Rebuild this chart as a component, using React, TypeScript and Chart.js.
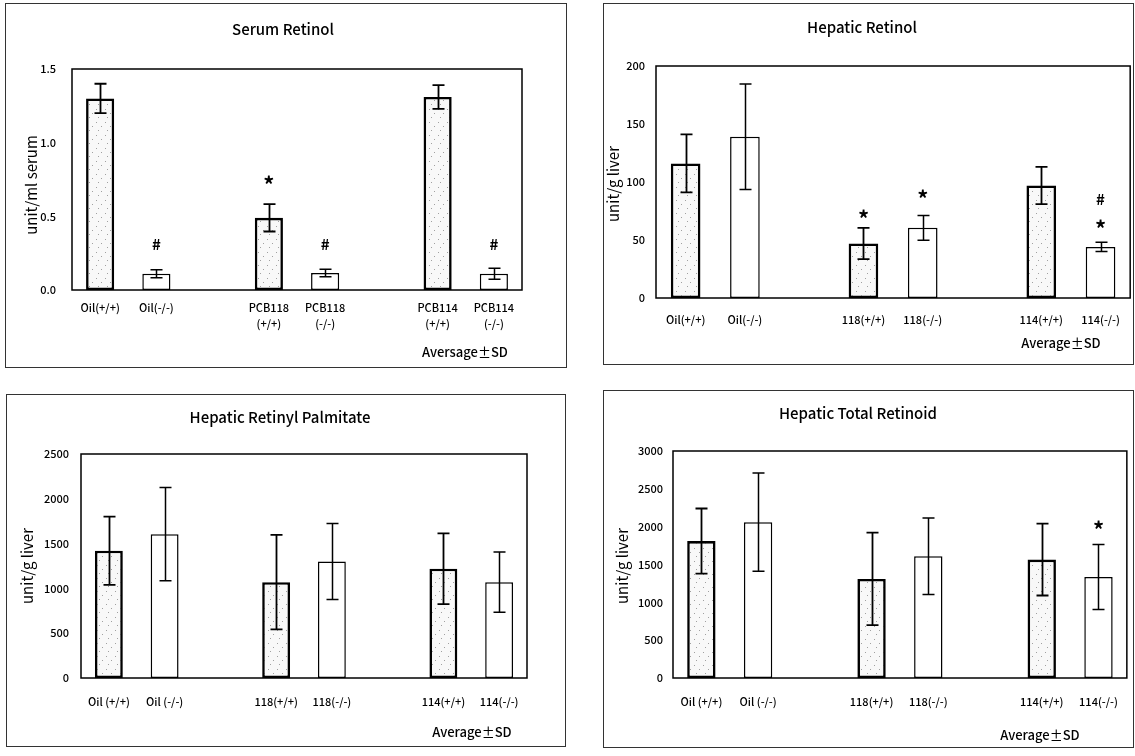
import { useEffect, useRef } from "react";
import { Chart, registerables } from "chart.js";
Chart.register(...registerables);

// ---------------- data ----------------
const genotype = ["+/+", "-/-", "", "+/+", "-/-", "", "+/+", "-/-"];

// Serum Retinol
const serumLabels: (string | string[])[] = ["Oil(+/+)", "Oil(-/-)", "", ["PCB118", "(+/+)"], ["PCB118", "(-/-)"], "", ["PCB114", "(+/+)"], ["PCB114", "(-/-)"]];
const serumMeans = [1.3, 0.11, null, 0.49, 0.115, null, 1.31, 0.11];
const serumSD = [0.1, 0.027, null, 0.093, 0.025, null, 0.08, 0.037];
const serumMarkText = ["#", "*", "#", "#"];
const serumMarkCat = [1, 3, 4, 7];
const serumMarkVal = [0.31, 0.75, 0.31, 0.31];

// Hepatic Retinol
const hepRetLabels = ["Oil(+/+)", "Oil(-/-)", "", "118(+/+)", "118(-/-)", "", "114(+/+)", "114(-/-)"];
const hepRetMeans = [116, 139, null, 47, 60.5, null, 97, 44];
const hepRetSD = [25, 45.5, null, 13.5, 10.7, null, 16, 4];
const hepRetMarkText = ["*", "*", "#", "*"];
const hepRetMarkCat = [3, 4, 7, 7];
const hepRetMarkVal = [73, 90, 85, 64];

// Hepatic Retinyl Palmitate
const palmLabels = ["Oil (+/+)", "Oil (-/-)", "", "118(+/+)", "118(-/-)", "", "114(+/+)", "114(-/-)"];
const palmMeans = [1420, 1605, null, 1070, 1300, null, 1220, 1070];
const palmSD = [380, 520, null, 527, 425, null, 395, 335];
const palmMarkText: string[] = [];
const palmMarkCat: number[] = [];
const palmMarkVal: number[] = [];

// Hepatic Total Retinoid
const totalLabels = ["Oil (+/+)", "Oil (-/-)", "", "118(+/+)", "118(-/-)", "", "114(+/+)", "114(-/-)"];
const totalMeans = [1810, 2060, null, 1310, 1610, null, 1565, 1335];
const totalSD = [430, 650, null, 612, 505, null, 475, 430];
const totalMarkText = ["*"];
const totalMarkCat = [7];
const totalMarkVal = [2035];

// ---------------- layout ----------------
const FONT = "'Noto Sans CJK JP', 'Noto Sans', sans-serif";

type Box = { x: number; y: number; w: number; h: number };
type Plot = { l: number; t: number; r: number; b: number };
type Cfg = {
  box: Box;
  plot: Plot;
  title: string;
  titlePos: [number, number];
  yTitle: string;
  yTitlePos: [number, number];
  note: string;
  notePos: [number, number];
  labels: (string | string[])[];
  means: (number | null)[];
  sd: (number | null)[];
  markText: string[];
  markCat: number[];
  markVal: number[];
  yMax: number;
  yStep: number;
  yDecimals: number;
  yPad: number;
  xPad: number;
};

const panels: Cfg[] = [
  {
    box: { x: 5, y: 3, w: 562, h: 365 },
    plot: { l: 72, t: 69, r: 522, b: 290 },
    title: "Serum Retinol",
    titlePos: [283, 28],
    yTitle: "unit/ml serum",
    yTitlePos: [31, 185],
    note: "Aversage\u00b1SD",
    notePos: [465, 353],
    labels: serumLabels,
    means: serumMeans,
    sd: serumSD,
    markText: serumMarkText,
    markCat: serumMarkCat,
    markVal: serumMarkVal,
    yMax: 1.5,
    yStep: 0.5,
    yDecimals: 1,
    yPad: 16,
    xPad: 10,
  },
  {
    box: { x: 603, y: 3, w: 531, h: 362 },
    plot: { l: 656, t: 66, r: 1133, b: 298 },
    title: "Hepatic Retinol",
    titlePos: [862, 28],
    yTitle: "unit/g liver",
    yTitlePos: [613, 184],
    note: "Average\u00b1SD",
    notePos: [1061, 344],
    labels: hepRetLabels,
    means: hepRetMeans,
    sd: hepRetSD,
    markText: hepRetMarkText,
    markCat: hepRetMarkCat,
    markVal: hepRetMarkVal,
    yMax: 200,
    yStep: 50,
    yDecimals: 0,
    yPad: 11,
    xPad: 14,
  },
  {
    box: { x: 6, y: 394, w: 560, h: 353 },
    plot: { l: 81, t: 454, r: 527, b: 678 },
    title: "Hepatic Retinyl Palmitate",
    titlePos: [280, 418],
    yTitle: "unit/g liver",
    yTitlePos: [27, 566],
    note: "Average\u00b1SD",
    notePos: [472, 733],
    labels: palmLabels,
    means: palmMeans,
    sd: palmSD,
    markText: palmMarkText,
    markCat: palmMarkCat,
    markVal: palmMarkVal,
    yMax: 2500,
    yStep: 500,
    yDecimals: 0,
    yPad: 12,
    xPad: 16,
  },
  {
    box: { x: 603, y: 390, w: 531, h: 358 },
    plot: { l: 673, t: 451, r: 1132, b: 678 },
    title: "Hepatic Total Retinoid",
    titlePos: [858, 414],
    yTitle: "unit/g liver",
    yTitlePos: [622, 566],
    note: "Average\u00b1SD",
    notePos: [1040, 736],
    labels: totalLabels,
    means: totalMeans,
    sd: totalSD,
    markText: totalMarkText,
    markCat: totalMarkCat,
    markVal: totalMarkVal,
    yMax: 3000,
    yStep: 500,
    yDecimals: 0,
    yPad: 10,
    xPad: 16,
  },
];

function makePattern(): CanvasPattern | string {
  const c = document.createElement("canvas");
  c.width = 9;
  c.height = 13;
  const g = c.getContext("2d");
  if (!g) return "#f4f4f4";
  g.fillStyle = "#f8f8f8";
  g.fillRect(0, 0, 9, 13);
  g.fillStyle = "#a0a0a0";
  g.fillRect(1, 2, 1, 1);
  g.fillRect(6, 6, 1, 1);
  g.fillRect(3, 10, 1, 1);
  const p = g.createPattern(c, "repeat");
  return p || "#f4f4f4";
}

function drawCentered(ctx: CanvasRenderingContext2D, text: string, x: number, y: number) {
  const m = ctx.measureText(text);
  const asc = m.actualBoundingBoxAscent;
  const desc = m.actualBoundingBoxDescent;
  ctx.textBaseline = "alphabetic";
  ctx.fillText(text, x, y + (asc - desc) / 2);
}

function PanelChart({ cfg }: { cfg: Cfg }) {
  const ref = useRef<HTMLCanvasElement>(null);
  useEffect(() => {
    const canvas = ref.current;
    if (!canvas) return;
    const { box, plot } = cfg;
    const pattern = makePattern();
    const isPP = genotype.map((g) => g === "+/+");

    const decor = {
      id: "decor" + cfg.title.replace(/\s/g, ""),
      beforeDraw(chart: any) {
        const ctx = chart.ctx as CanvasRenderingContext2D;
        ctx.save();
        ctx.fillStyle = "#ffffff";
        ctx.fillRect(0, 0, box.w, box.h);
        ctx.strokeStyle = "#333333";
        ctx.lineWidth = 1;
        ctx.strokeRect(0.5, 0.5, box.w - 1, box.h - 1);
        ctx.restore();
      },
      afterDatasetsDraw(chart: any) {
        const ctx = chart.ctx as CanvasRenderingContext2D;
        const xs = chart.scales.x;
        const ys = chart.scales.y;
        ctx.save();
        ctx.strokeStyle = "#000000";
        cfg.means.forEach((m, i) => {
          const s = cfg.sd[i];
          if (m == null || s == null) return;
          const x = Math.round(xs.getPixelForValue(i)) + 0.5;
          const yt = ys.getPixelForValue(m + s);
          const yb = ys.getPixelForValue(m - s);
          ctx.lineWidth = isPP[i] ? 1.8 : 1.5;
          ctx.beginPath();
          ctx.moveTo(x, yt);
          ctx.lineTo(x, yb);
          ctx.moveTo(x - 6, yt);
          ctx.lineTo(x + 6, yt);
          ctx.moveTo(x - 6, yb);
          ctx.lineTo(x + 6, yb);
          ctx.stroke();
        });
        ctx.fillStyle = "#000000";
        ctx.textAlign = "center";
        cfg.markText.forEach((t, k) => {
          const x = xs.getPixelForValue(cfg.markCat[k]);
          const y = ys.getPixelForValue(cfg.markVal[k]);
          ctx.font = t === "*" ? `bold 22px ${FONT}` : `bold 15px ${FONT}`;
          drawCentered(ctx, t, x, y);
        });
        const a = chart.chartArea;
        ctx.strokeStyle = "#000000";
        ctx.lineWidth = 1.5;
        ctx.strokeRect(a.left, a.top, a.right - a.left, a.bottom - a.top);
        ctx.restore();
      },
      afterDraw(chart: any) {
        const ctx = chart.ctx as CanvasRenderingContext2D;
        ctx.save();
        ctx.fillStyle = "#000000";
        ctx.textAlign = "center";
        ctx.font = `500 15px ${FONT}`;
        drawCentered(ctx, cfg.title, cfg.titlePos[0] - box.x, cfg.titlePos[1] - box.y);
        ctx.font = `500 13px ${FONT}`;
        drawCentered(ctx, cfg.note, cfg.notePos[0] - box.x, cfg.notePos[1] - box.y);
        ctx.translate(cfg.yTitlePos[0] - box.x, cfg.yTitlePos[1] - box.y);
        ctx.rotate(-Math.PI / 2);
        ctx.font = `15px ${FONT}`;
        ctx.textBaseline = "middle";
        ctx.fillText(cfg.yTitle, 0, 0);
        ctx.restore();
      },
    };

    const chart = new Chart(canvas, {
      type: "bar",
      data: {
        labels: cfg.labels as any,
        datasets: [
          {
            data: cfg.means as any,
            backgroundColor: isPP.map((p) => (p ? pattern : "#ffffff")) as any,
            borderColor: "#000000",
            borderWidth: isPP.map((p) => (p ? 2.6 : 1.5)) as any,
            borderSkipped: false,
            barPercentage: 0.5,
            categoryPercentage: 1,
          },
        ],
      },
      options: {
        animation: false,
        responsive: false,
        events: [],
        layout: {
          padding: { top: plot.t - box.y, right: box.x + box.w - plot.r, left: 0, bottom: 0 },
        },
        plugins: {
          legend: { display: false },
          title: { display: false },
          tooltip: { enabled: false },
        },
        scales: {
          x: {
            type: "category",
            grid: { display: false, drawTicks: false },
            border: { display: false },
            ticks: {
              color: "#000000",
              font: { family: FONT, size: 11, weight: "500", lineHeight: 1.45 },
              padding: cfg.xPad,
              maxRotation: 0,
              minRotation: 0,
              autoSkip: false,
            },
            afterFit: (s: any) => {
              s.height = box.y + box.h - plot.b;
            },
          },
          y: {
            min: 0,
            max: cfg.yMax,
            grid: { display: false, drawTicks: false },
            border: { display: false },
            ticks: {
              stepSize: cfg.yStep,
              color: "#000000",
              font: { family: FONT, size: 11, weight: "500" },
              padding: cfg.yPad,
              callback: (v: any) => Number(v).toFixed(cfg.yDecimals),
            },
            afterFit: (s: any) => {
              s.width = plot.l - box.x;
            },
          },
        },
      },
      plugins: [decor as any],
    });
    return () => chart.destroy();
  }, [cfg]);
  return (
    <canvas
      ref={ref}
      width={cfg.box.w}
      height={cfg.box.h}
      style={{ position: "absolute", left: cfg.box.x, top: cfg.box.y, width: cfg.box.w, height: cfg.box.h }}
    />
  );
}

export default function App() {
  return (
    <div style={{ position: "absolute", left: 0, top: 0, width: 1135, height: 756, background: "#ffffff", overflow: "hidden" }}>
      {panels.map((p) => (
        <PanelChart key={p.title} cfg={p} />
      ))}
    </div>
  );
}
